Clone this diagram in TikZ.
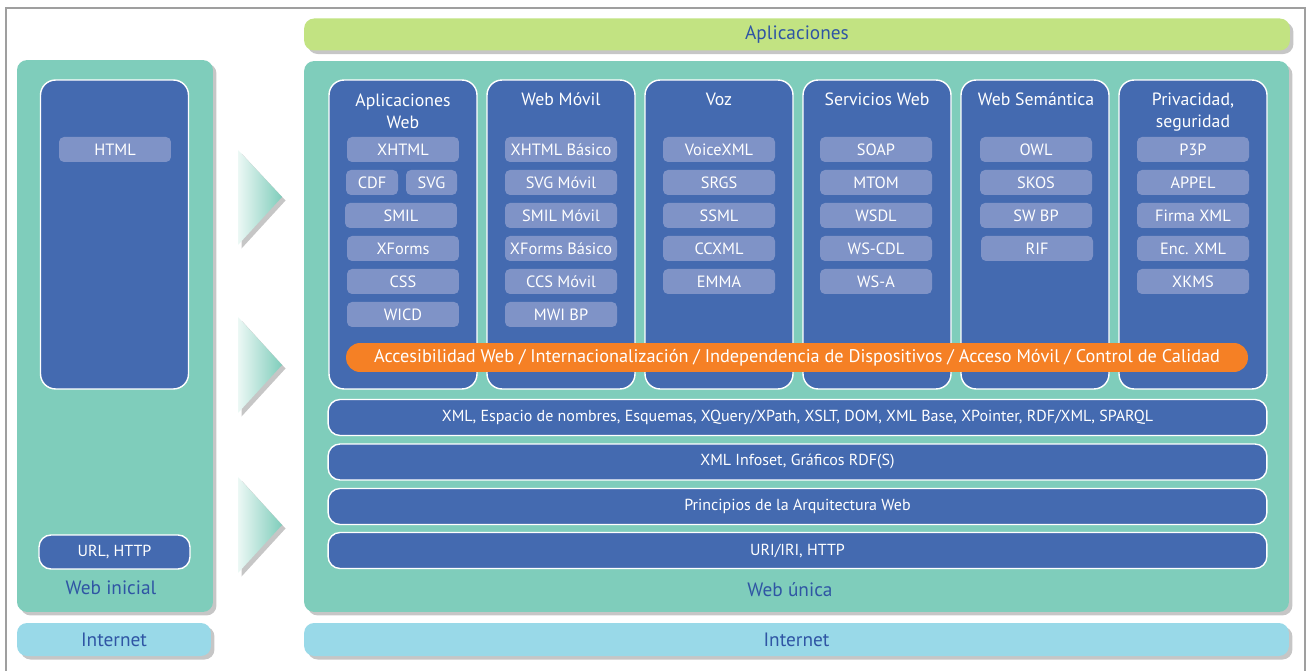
\documentclass[tikz,border=0pt]{standalone}
\usepackage{fontspec}
\setmainfont{PT Sans}
\usetikzlibrary{shadows}
\definecolor{panelteal}{HTML}{7FCDBB}
\definecolor{layerblue}{HTML}{446AB0}
\definecolor{pillblue}{HTML}{7F93C7}
\definecolor{barorange}{HTML}{F58025}
\definecolor{appgreen}{HTML}{C2E382}
\definecolor{netblue}{HTML}{99D9E8}
\definecolor{labelblue}{HTML}{2F55A4}
\tikzstyle{softshadow}=[drop shadow={shadow xshift=2pt,shadow yshift=-2pt,opacity=.45}]
\tikzstyle{panel}=[fill=panelteal,rounded corners=0.2cm,softshadow]
\tikzstyle{column}=[draw=white,line width=0.8pt,fill=layerblue,rounded corners=0.3cm,minimum width=2.96cm,minimum height=6.18cm]
\tikzstyle{pill}=[fill=pillblue,rounded corners=0.1cm,minimum width=2.24cm,minimum height=0.5cm,inner sep=0pt,text=white,font=\fontsize{9.3}{11}\selectfont]
\tikzstyle{layer}=[draw=white,line width=0.8pt,fill=layerblue,rounded corners=0.24cm,minimum width=18.78cm,minimum height=0.72cm,text=white,font=\fontsize{9.1}{11}\selectfont]
\tikzstyle{head}=[text=white,align=center,font=\fontsize{10.1}{12.5}\selectfont]
\tikzstyle{caption}=[text=labelblue,font=\fontsize{11}{13}\selectfont]

\begin{document}
\begin{tikzpicture}[x=0.02cm,y=-0.02cm]
    \useasboundingbox (0,0) rectangle (1310,671);
    \draw[gray!75,line width=1.5pt] (6,671) -- (6,8) -- (1305,8) -- (1305,671);

    % top and bottom strips
    \node[panel,fill=appgreen,minimum width=19.72cm,minimum height=0.64cm,text=labelblue,font=\fontsize{11}{13}\selectfont] (app) at (797,34.5) {Aplicaciones};
    \node[panel,fill=netblue,minimum width=3.88cm,minimum height=0.66cm,text=labelblue,font=\fontsize{11}{13}\selectfont] (netL) at (114,639.5) {Internet};
    \node[panel,fill=netblue,minimum width=19.7cm,minimum height=0.66cm,text=labelblue,font=\fontsize{11}{13}\selectfont] (netR) at (796.5,639.5) {Internet};

    % Web inicial
    \node[panel,minimum width=3.92cm,minimum height=11.04cm] (inicial) at (115,336) {};
    \node[column] (colHtml) at (114.5,234.5) {};
    \node[pill] (html) at (115,149.5) {HTML};
    \node[layer,minimum width=3.02cm,minimum height=0.68cm] (url) at (114.5,552) {URL, HTTP};
    \node[caption] (inicialtxt) at (111,588) {Web inicial};

    % arrows
    \path[left color=panelteal!15,right color=panelteal,softshadow] (238,150) -- (282,197) -- (238,245) -- cycle;
    \path[left color=panelteal!15,right color=panelteal,softshadow] (238,317) -- (282,365) -- (238,413) -- cycle;
    \path[left color=panelteal!15,right color=panelteal,softshadow] (238,477) -- (282,525) -- (238,573) -- cycle;

    % Web unica
    \node[panel,minimum width=19.7cm,minimum height=11.02cm] (unica) at (796.5,336.5) {};
    \node[caption] (unicatxt) at (790,590) {Web única};

    \node[column] (colApp) at (403,234.5) {};
    \node[column] (colMov) at (561,234.5) {};
    \node[column] (colVoz) at (719,234.5) {};
    \node[column] (colServ) at (877,234.5) {};
    \node[column] (colSem) at (1035,234.5) {};
    \node[column] (colPriv) at (1193,234.5) {};

    \node[head] (hApp) at (403,111) {Aplicaciones\\Web};
    \node[head] (hMov) at (561,99) {Web Móvil};
    \node[head] (hVoz) at (719,99) {Voz};
    \node[head] (hServ) at (877,99) {Servicios Web};
    \node[head] (hSem) at (1036,99) {Web Semántica};
    \node[head] (hPriv) at (1193,112) {Privacidad,\\seguridad};

    \node[pill] (xhtml) at (403,149.5) {XHTML};
    \node[pill,minimum width=1.04cm] (cdf) at (372,182.5) {CDF};
    \node[pill,minimum width=1.02cm] (svg) at (431.5,182.5) {SVG};
    \node[pill] (smil) at (401,215.5) {SMIL};
    \node[pill] (xforms) at (403,248.5) {XForms};
    \node[pill] (css) at (403,281.5) {CSS};
    \node[pill] (wicd) at (403,314.5) {WICD};

    \node[pill] (xhtmlb) at (561,149.5) {XHTML Básico};
    \node[pill] (svgm) at (561,182.5) {SVG Móvil};
    \node[pill] (smilm) at (561,215.5) {SMIL Móvil};
    \node[pill] (xformsb) at (561,248.5) {XForms Básico};
    \node[pill] (ccsm) at (561,281.5) {CCS Móvil};
    \node[pill] (mwibp) at (561,314.5) {MWI BP};

    \node[pill] (voicexml) at (719,149.5) {VoiceXML};
    \node[pill] (srgs) at (719,182.5) {SRGS};
    \node[pill] (ssml) at (719,215.5) {SSML};
    \node[pill] (ccxml) at (719,248.5) {CCXML};
    \node[pill] (emma) at (719,281.5) {EMMA};

    \node[pill] (soap) at (876,149.5) {SOAP};
    \node[pill] (mtom) at (876,182.5) {MTOM};
    \node[pill] (wsdl) at (876,215.5) {WSDL};
    \node[pill] (wscdl) at (876,248.5) {WS-CDL};
    \node[pill] (wsa) at (876,281.5) {WS-A};

    \node[pill] (owl) at (1036,149.5) {OWL};
    \node[pill] (skos) at (1036,182.5) {SKOS};
    \node[pill] (swbp) at (1036,215.5) {SW BP};
    \node[pill] (rif) at (1037,248.5) {RIF};

    \node[pill] (p3p) at (1193,149.5) {P3P};
    \node[pill] (appel) at (1193,182.5) {APPEL};
    \node[pill] (firma) at (1193,215.5) {Firma XML};
    \node[pill] (enc) at (1193,248.5) {Enc. XML};
    \node[pill] (xkms) at (1193,281.5) {XKMS};

    \node[fill=barorange,rounded corners=0.28cm,minimum width=18.04cm,minimum height=0.58cm,inner sep=0pt,text=white,font=\fontsize{10.4}{12}\selectfont] (access) at (797,357.5) {Accesibilidad Web / Internacionalización / Independencia de Dispositivos / Acceso Móvil / Control de Calidad};

    % layers
    \node[layer] (xml) at (797.5,417.5) {XML, Espacio de nombres, Esquemas, XQuery/XPath, XSLT, DOM, XML Base, XPointer, RDF/XML, SPARQL};
    \node[layer] (infoset) at (797.5,462) {XML Infoset,\ Gráficos RDF(S)};
    \node[layer] (princ) at (797.5,506.5) {Principios de la Arquitectura Web};
    \node[layer] (uri) at (797.5,550.5) {URI/IRI, HTTP};
\end{tikzpicture}
\end{document}
